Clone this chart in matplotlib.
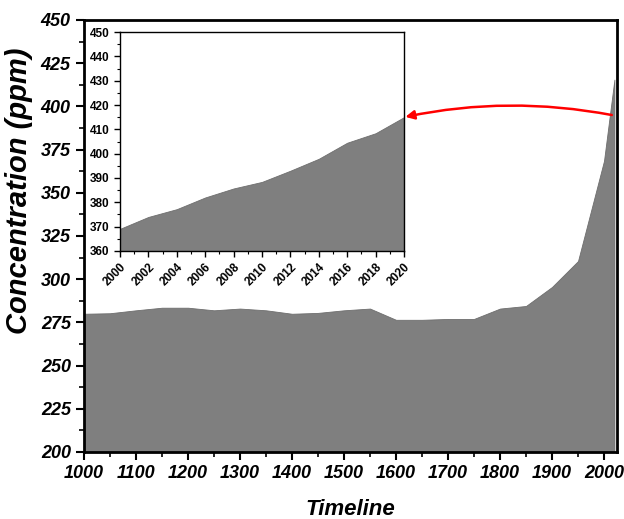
import matplotlib
matplotlib.use("Agg")
import matplotlib.pyplot as plt
from matplotlib.ticker import MultipleLocator

plt.rcParams['font.family'] = ['Liberation Sans', 'DejaVu Sans']

# long record, 1000-2020
years = [1000, 1050, 1100, 1150, 1200, 1250, 1300, 1350, 1400, 1450, 1500,
         1550, 1600, 1650, 1700, 1750, 1800, 1850, 1900, 1950, 2000, 2020]
ppm = [280, 280.3, 282, 283.5, 283.5, 282, 283, 282, 280, 280.5, 282,
       283, 276.5, 276.5, 277, 277, 283, 284.5, 295.5, 310.5, 368.5, 415.5]

# recent record, 2000-2020
recent_years = [2000, 2002, 2004, 2006, 2008, 2010, 2012, 2014, 2016, 2018, 2020]
recent_ppm = [369.1, 374, 377.2, 382, 385.7, 388.4, 393, 397.9, 404.5, 408.4, 415]

fill_color = '#7f7f7f'

fig = plt.figure(figsize=(6.24, 5.19), dpi=100)
ax = fig.add_axes([0.1346, 0.1291, 0.8542, 0.8324])
ax.fill_between(years, ppm, 200, color=fill_color, lw=0.6, edgecolor='#6e6e6e')
ax.set_xlim(1000, 2025)
ax.set_ylim(200, 450)
ax.xaxis.set_major_locator(MultipleLocator(100))
ax.xaxis.set_minor_locator(MultipleLocator(50))
ax.yaxis.set_major_locator(MultipleLocator(25))
ax.yaxis.set_minor_locator(MultipleLocator(12.5))
for s in ax.spines.values():
    s.set_linewidth(2)
ax.tick_params(which='major', direction='out', length=6, width=1.5, labelsize=13)
ax.tick_params(which='minor', direction='out', length=3.5, width=1.2)
for lab in ax.get_xticklabels() + ax.get_yticklabels():
    lab.set_fontweight('bold')
    lab.set_fontstyle('italic')
ax.set_xlabel('Timeline', fontsize=16, fontweight='bold', fontstyle='italic', labelpad=12)
ax.set_ylabel('Concentration (ppm)', fontsize=21, fontweight='bold', fontstyle='italic')
ax.yaxis.set_label_coords(-0.096, 0.604)

# inset
ins = fig.add_axes([0.1923, 0.5164, 0.4551, 0.4219])
ins.fill_between(recent_years, recent_ppm, 360, color=fill_color, lw=0.6, edgecolor='#6e6e6e')
ins.set_xlim(2000, 2020)
ins.set_ylim(360, 450)
ins.set_xticks(recent_years)
ins.xaxis.set_minor_locator(MultipleLocator(1))
ins.yaxis.set_major_locator(MultipleLocator(10))
ins.yaxis.set_minor_locator(MultipleLocator(5))
for s in ins.spines.values():
    s.set_linewidth(1)
ins.tick_params(which='major', direction='out', length=4, width=1, labelsize=8.5)
ins.tick_params(which='minor', direction='out', length=2, width=0.8)
for lab in ins.get_xticklabels():
    lab.set_rotation(45)
    lab.set_ha('right')
    lab.set_rotation_mode('anchor')
for lab in ins.get_xticklabels() + ins.get_yticklabels():
    lab.set_fontweight('bold')

# curved arrow from the main curve to the inset
ax.annotate('', xy=(2020, 415), xycoords=ins.transData,
            xytext=(2015, 395), textcoords=ax.transData,
            arrowprops=dict(arrowstyle='-|>', color='red', lw=1.8,
                            mutation_scale=13, shrinkA=0, shrinkB=1,
                            connectionstyle='arc3,rad=0.1'))

fig.savefig('out.png', dpi=100)
